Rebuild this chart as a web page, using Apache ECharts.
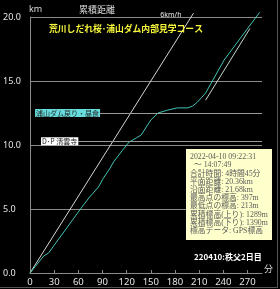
<!DOCTYPE html>
<html><head><meta charset="utf-8">
<script src="https://cdn.jsdelivr.net/npm/echarts@6/dist/echarts.min.js"></script>
<style>html,body{margin:0;padding:0;background:#000;}#c{width:280px;height:289px;}</style>
</head><body><div id="c"></div>
<script>
// ---- data ----
const minutes = [0,17,23,60,73,85,91,98,104,115,123,132,138,150,159,171,183,196,202,208,218,241,285];
const distKm  = [0,1.33,1.56,4.77,5.86,6.72,7.4,8.05,8.7,9.6,10.23,10.55,10.78,11.95,12.5,12.73,12.9,12.9,13.05,13.36,14.06,16.64,20.36];
const refMin6 = [0,203];
const refKm6  = [0,20.3];
const refMin6b = [218,273];
const refKm6b  = [13.5,19.1];
const refLabel = '6km/h';
const waypointNames = ['浦山ダム戻り・昼食','D･P 清雲寺'];
const waypointKm = [12.5,10.3];
const waypointLabelEndMin = [87,60];
const waypointBg = ['#66dcdc','#ffffff'];
const xTicks = [0,30,60,90,120,150,180,210,240,270];
const yTicks = [0,5,10,15,20];
const titleText = '荒川しだれ桜･浦山ダム内部見学コース';
const subText = '220410:秩父2日目';
const yName = 'km';
const yHeader = '累積距離';
const xName = '分';
const infoLines = [
  '2022-04-10 09:22:31',
  '  ～ 14:07:49',
  '合計時間: 4時間45分',
  '平面距離: 20.36km',
  '沿面距離: 21.68km',
  '最高点の標高: 397m',
  '最低点の標高: 213m',
  '累積標高(上り): 1289m',
  '累積標高(下り): 1390m',
  '標高データ: GPS標高'
];

const CJK = "'Noto Sans CJK JP','Noto Sans',sans-serif";
const chart = echarts.init(document.getElementById('c'), null, {renderer:'canvas'});
const xMax = 288;

const track = minutes.map((m,i)=>[m, distKm[i]]);
const ref1 = refMin6.map((m,i)=>[m, refKm6[i]]);
const ref2 = refMin6b.map((m,i)=>[m, refKm6b[i]]);

const markData = waypointNames.map((n,i)=>[
  {coord:[waypointLabelEndMin[i], waypointKm[i]], label:{show:true, position:'start', distance:0, formatter:n, color:'#222', backgroundColor:waypointBg[i], fontSize:7, padding:[1,1,0,1], fontFamily:CJK}},
  {coord:[xMax, waypointKm[i]]}
]);

chart.setOption({
  backgroundColor:'#000',
  animation:false,
  grid:{left:28, right:18, top:17, bottom:16},
  title:[
    {text:yName, left:24, top:0, textStyle:{color:'#dcdcdc', fontSize:9, fontWeight:'normal', fontFamily:"'Noto Sans',sans-serif"}},
    {text:yHeader, left:74, top:0, textStyle:{color:'#dcdcdc', fontSize:9, fontWeight:'normal', fontFamily:CJK}},
    {text:titleText, left:44, top:19, textStyle:{color:'#f5f53a', fontSize:8.8, fontWeight:'bold', fontFamily:CJK}},
    {text:subText, left:189, top:248, textStyle:{color:'#ffffff', fontSize:8, fontWeight:'bold', fontFamily:CJK}}
  ],
  xAxis:{
    type:'value', min:0, max:xMax, interval:30,
    name:xName, nameLocation:'end', nameGap:2,
    nameTextStyle:{color:'#dcdcdc', fontSize:9, fontFamily:CJK, verticalAlign:'bottom', padding:[0,0,0,0]},
    axisLine:{show:true, lineStyle:{color:'#8a8a8a', width:1}},
    axisTick:{show:true, inside:true, length:3, lineStyle:{color:'#8a8a8a'}},
    axisLabel:{color:'#e6e6e6', fontSize:9.5, margin:4, showMaxLabel:false, fontFamily:"'Noto Sans',sans-serif",
      formatter:v=> xTicks.includes(v) ? String(v) : ''},
    splitLine:{show:false}
  },
  yAxis:{
    type:'value', min:0, max:20, interval:5,
    axisLine:{show:true, lineStyle:{color:'#8a8a8a', width:1}},
    axisTick:{show:false},
    axisLabel:{color:'#e6e6e6', fontSize:9, margin:27, align:'left', fontFamily:"'Noto Sans',sans-serif",
      formatter:v=> yTicks.includes(v) ? v.toFixed(1) : ''},
    splitLine:{show:true, lineStyle:{color:'#8a8a8a', width:1}}
  },
  series:[
    {type:'line', data:ref1, showSymbol:false, symbol:'none', clip:false, silent:true,
      lineStyle:{color:'#d6d6d6', width:1}, z:2,
      endLabel:{show:true, formatter:refLabel, color:'#e8e8e8', fontSize:7, fontFamily:"'Noto Sans',sans-serif", align:'right', distance:0, offset:[-12,2]}
    },
    {type:'line', data:ref2, showSymbol:false, symbol:'none', clip:false, silent:true,
      lineStyle:{color:'#c8d8d0', width:1}, z:2},
    {type:'line', data:track, showSymbol:false, symbol:'none', clip:false, silent:true,
      lineStyle:{color:'#3fc4b4', width:1}, z:3,
      markLine:{silent:true, symbol:'none', animation:false,
        lineStyle:{color:'#9a9a9a', width:1, type:'solid'},
        data:markData}
    }
  ],
  graphic:[
    {type:'rect', left:186, top:149, z:10, shape:{width:86, height:91}, style:{fill:'#ffffcc'}},
    {type:'text', left:190, top:153, z:11, style:{text:infoLines.join('\n'), fill:'#5a5a5a', fontSize:7.8, lineHeight:8.2, fontFamily:"'Liberation Serif','Noto Sans CJK JP',serif"}},
    {type:'line', z:20, shape:{x1:277.5, y1:0, x2:277.5, y2:287}, style:{stroke:'#555', lineWidth:1}},
    {type:'line', z:20, shape:{x1:0, y1:287.5, x2:278, y2:287.5}, style:{stroke:'#555', lineWidth:1}}
  ]
});
</script></body></html>
